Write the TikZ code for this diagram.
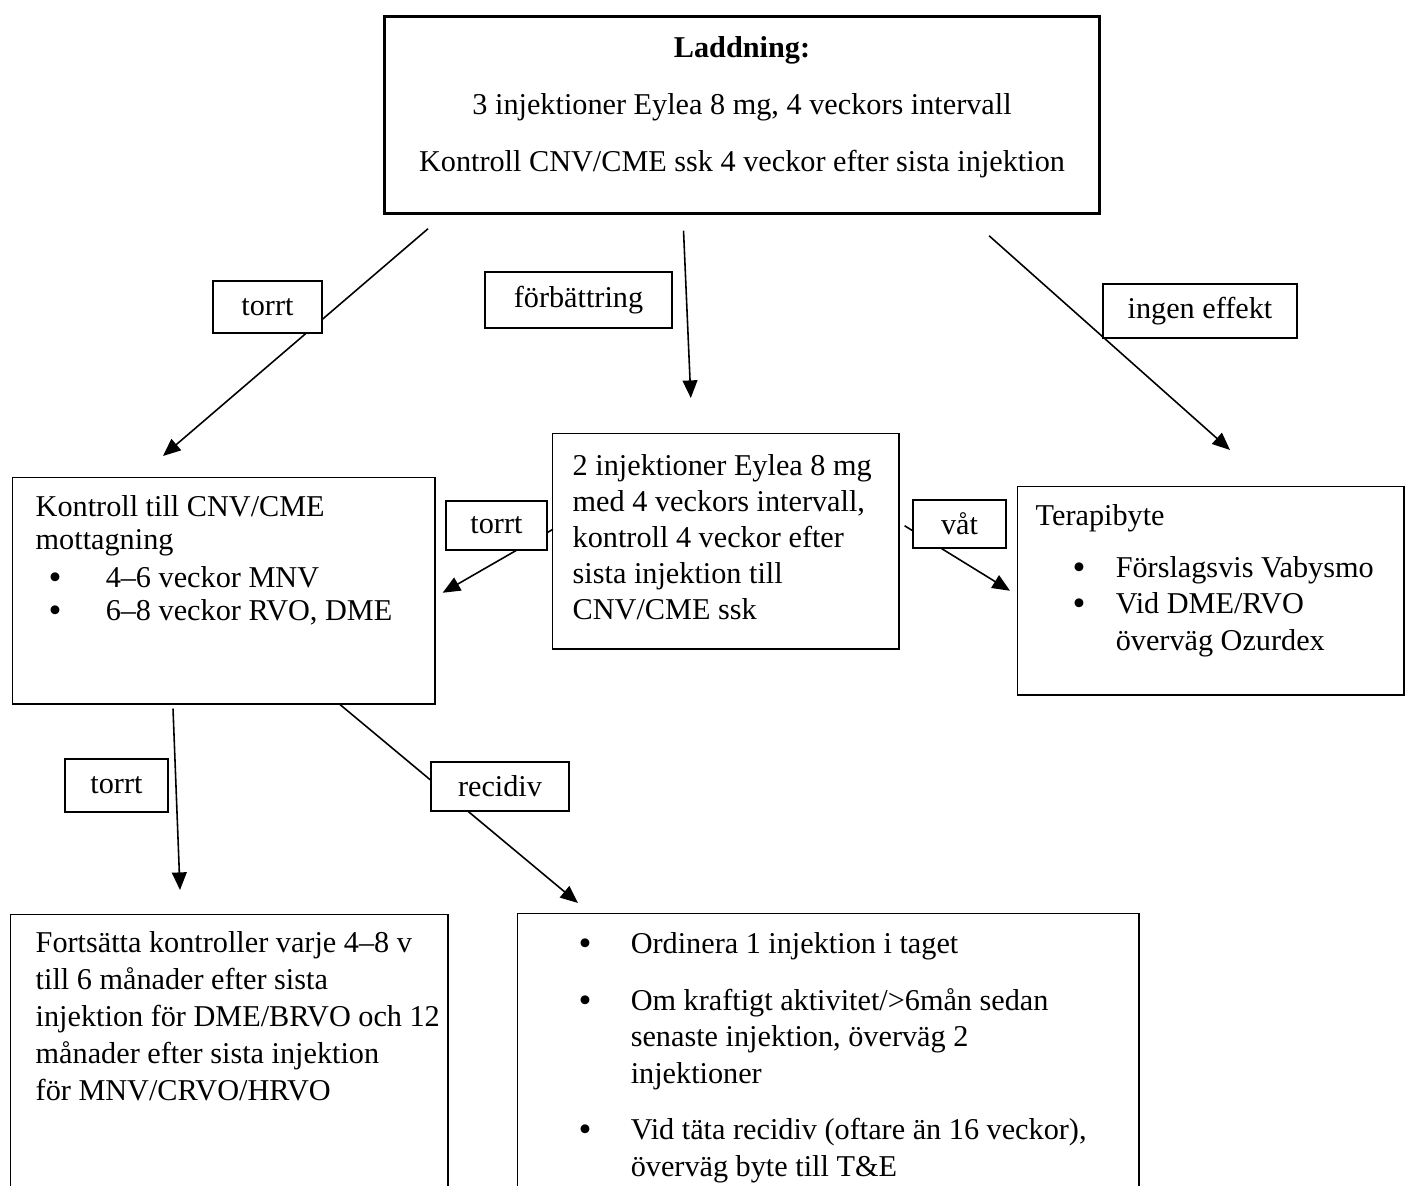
\documentclass[tikz,border=0pt]{standalone}
\usepackage{fontspec}
\setmainfont{Liberation Serif}
\usetikzlibrary{arrows.meta, calc}

\newlength\px
\setlength\px{0.2845276pt}
\newcommand{\boxbody}[3]{\parbox[t][#2\px][t]{#1\px}{\parskip=0pt\parindent=0pt\raggedright #3}}
\newcommand{\firstline}[1]{\rule{0pt}{#1\px}}
\newcommand{\bpt}[2]{\par\leftskip=#1\px\noindent\llap{\makebox[#2\px][l]{\smash{\raisebox{-0.5pt}{\fontsize{10.5}{10.5}\selectfont\textbullet}}}}}

\tikzset{
  flowbox/.style={draw, line width=0.4pt, inner sep=0pt, anchor=north west},
  lbl/.style={draw, line width=0.4pt, fill=white, inner sep=0pt},
  arr/.style={-{Triangle[length=5pt,width=4.2pt]}, line width=0.45pt}
}

\begin{document}
\begin{tikzpicture}[x=0.01cm, y=-0.01cm, font=\fontsize{8.6}{10.5}\selectfont]
\useasboundingbox (0,0) rectangle (1405,1186);

\node[flowbox, line width=0.75pt] (load) at (383,15) {\boxbody{715}{197}{\centering\baselineskip=57\px
  \firstline{41}\textbf{Laddning:}\\
  3 injektioner Eylea 8 mg, 4 veckors intervall\\
  Kontroll CNV/CME ssk 4 veckor efter sista injektion\par}};

\node[flowbox] (ctrl) at (12,477) {\boxbody{422}{226}{\baselineskip=33\px\leftskip=23\px
  \firstline{39}Kontroll till CNV/CME\\mottagning\par\vspace{5\px}
  \bpt{93}{57}4–6 veckor MNV
  \bpt{93}{57}6–8 veckor RVO, DME\par}};

\node[flowbox] (inj2) at (552,433) {\boxbody{346}{215}{\baselineskip=36\px\leftskip=20\px
  \firstline{42}2 injektioner Eylea 8 mg\\
  med 4 veckors intervall,\\
  kontroll 4 veckor efter\\
  sista injektion till\\
  CNV/CME ssk\par}};

\node[flowbox] (swap) at (1017,486) {\boxbody{386}{208}{\baselineskip=36.5\px\leftskip=18\px
  \firstline{39}Terapibyte\par\vspace{15\px}
  \bpt{98}{43}Förslagsvis Vabysmo
  \bpt{98}{43}Vid DME/RVO\\överväg Ozurdex\par}};

\node[flowbox] (cont) at (10,914) {\boxbody{437}{285}{\baselineskip=37\px\leftskip=25\px
  \firstline{38}Fortsätta kontroller varje 4–8 v\\
  till 6 månader efter sista\\
  injektion för DME/BRVO och 12\\
  månader efter sista injektion\\
  för MNV/CRVO/HRVO\par}};

\node[flowbox] (recur) at (517,913) {\boxbody{621}{285}{\baselineskip=36.5\px
  \bpt{113}{52}\firstline{40}Ordinera 1 injektion i taget\par\vspace{20\px}
  \bpt{113}{52}Om kraftigt aktivitet/>6mån sedan\\senaste injektion, överväg 2\\injektioner\par\vspace{20\px}
  \bpt{113}{52}Vid täta recidiv (oftare än 16 veckor),\\överväg byte till T\&E\par}};

\draw[arr] ($(load.south west)+(45,14)$) -- ($(ctrl.north west)+(151,-21)$);
\draw[arr] ($(load.south)+(-58.5,16)$) -- ($(inj2.north)+(-35,-35)$);
\draw[arr] ($(load.south east)+(-112,21)$) -- ($(swap.north west)+(213,-36)$);
\draw[arr] ($(inj2.east)+(5,-15.5)$) -- ($(swap.west)+(-7,0)$);
\draw[arr] ($(inj2.west)+(1,-12)$) -- ($(ctrl.east)+(7,2)$);
\draw[arr] ($(ctrl.south west)+(161,4)$) -- ($(cont.north west)+(170,-24)$);
\draw[arr] ($(ctrl.south west)+(328,0)$) -- ($(recur.north west)+(61,-10)$);

\node[lbl, minimum width=109\px, minimum height=52\px] (dry1) at (267.5,307) {torrt};
\node[lbl, minimum width=187\px, minimum height=56\px] (better) at (578.5,300) {förbättring\hspace{12\px}};
\node[lbl, minimum width=194\px, minimum height=54\px] (noeff) at (1200,311) {ingen effekt};
\node[lbl, minimum width=101\px, minimum height=49\px] (dry2) at (496.5,525.5) {torrt};
\node[lbl, minimum width=93\px, minimum height=48\px] (wet) at (959.5,524) {våt};
\node[lbl, minimum width=103\px, minimum height=53\px] (dry3) at (116.5,785.5) {torrt};
\node[lbl, minimum width=138\px, minimum height=49\px] (relapse) at (500,786.5) {recidiv};
\end{tikzpicture}
\end{document}
